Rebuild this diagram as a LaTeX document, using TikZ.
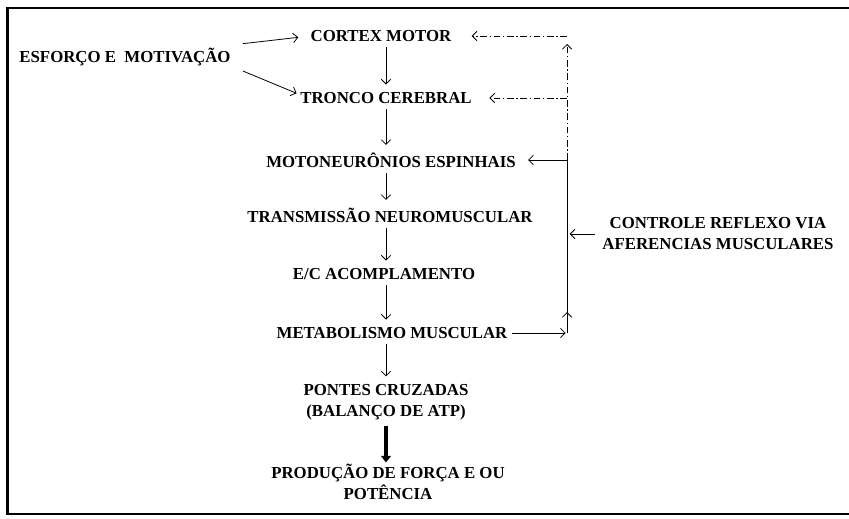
\documentclass[tikz,border=0pt]{standalone}
\usepackage{fontspec}
\setmainfont{Liberation Serif}
\usetikzlibrary{arrows.meta}
\begin{document}
\begin{tikzpicture}[x=0.75pt,y=-0.75pt,line width=0.6pt,
        >={Straight Barb[length=3.5pt,width=7pt]},
        lbl/.style={font=\fontsize{12.6}{15.75}\selectfont\bfseries,align=center,inner sep=1pt},
        down/.style={->,shorten <=3pt,shorten >=4.5pt},
        fb/.style={dash pattern=on 5pt off 2pt on 1pt off 2pt}]
        \useasboundingbox (0,0) rectangle (849,518);
        \draw[line width=1.6pt] (870,8) -- (7.5,8) -- (7.5,514) -- (870,514);

        \node[lbl] (esf) at (125,57) {ESFORÇO E\ \ MOTIVAÇÃO};
        \node[lbl] (cortex) at (381,36) {CORTEX MOTOR};
        \node[lbl] (tronco) at (386,98) {TRONCO CEREBRAL};
        \node[lbl] (moto) at (391,160) {MOTONEURÔNIOS ESPINHAIS};
        \node[lbl] (trans) at (390,215) {TRANSMISSÃO NEUROMUSCULAR};
        \node[lbl] (ec) at (384,274) {E/C ACOMPLAMENTO};
        \node[lbl] (metab) at (392,333) {METABOLISMO MUSCULAR};
        \node[lbl] (pontes) at (386,402) {PONTES CRUZADAS\\(BALANÇO DE ATP)};
        \node[lbl] (prod) at (388,482) {PRODUÇÃO DE FORÇA E OU\\POTÊNCIA};
        \node[lbl] (reflexo) at (718,234) {CONTROLE REFLEXO VIA\\AFERENCIAS MUSCULARES};

        \coordinate (axis) at (386,0);
        \coordinate (fbtop) at (567,36);
        \coordinate (fbtronco) at (567,98);
        \coordinate (fbmoto) at (567,160);
        \coordinate (fbhead) at (567,312);
        \coordinate (fbbot) at (567,333);

        \draw[->] ([xshift=8pt,yshift=2pt]esf.north east) -- ([xshift=-8pt,yshift=-1pt]cortex.west);
        \draw[->] ([xshift=8pt,yshift=-2.5pt]esf.south east) -- ([xshift=-1.5pt,yshift=3.5pt]tronco.west);

        \draw[down] (cortex.south -| axis) -- (tronco.north -| axis);
        \draw[down] (tronco.south -| axis) -- (moto.north -| axis);
        \draw[down] (moto.south -| axis) -- (trans.north -| axis);
        \draw[down] (trans.south -| axis) -- (ec.north -| axis);
        \draw[down] (ec.south -| axis) -- (metab.north -| axis);
        \draw[down] (metab.south -| axis) -- (pontes.north -| axis);
        \draw[line width=2.6pt,-{Triangle[width=7.5pt,length=5pt]},shorten <=3pt] (pontes.south -| axis) -- (prod.north -| axis);

        \draw[fb,->,shorten >=14pt] (fbtop) -- (cortex.east);
        \draw[fb,->,shorten >=6pt] (fbmoto) -- (fbtop);
        \draw[fb,->,shorten >=12pt] (fbtronco) -- (tronco.east);
        \draw[->,shorten >=8pt] (fbmoto) -- (moto.east);
        \draw (fbmoto) -- (fbbot);
        \draw[->,shorten <=2pt,shorten >=1pt] (metab.east) -- (fbbot);
        \draw[->] (fbbot) -- (fbhead);
        \draw[->,shorten <=4pt,shorten >=2pt] (reflexo.west) -- (reflexo.west -| fbmoto);
    \end{tikzpicture}
\end{document}
